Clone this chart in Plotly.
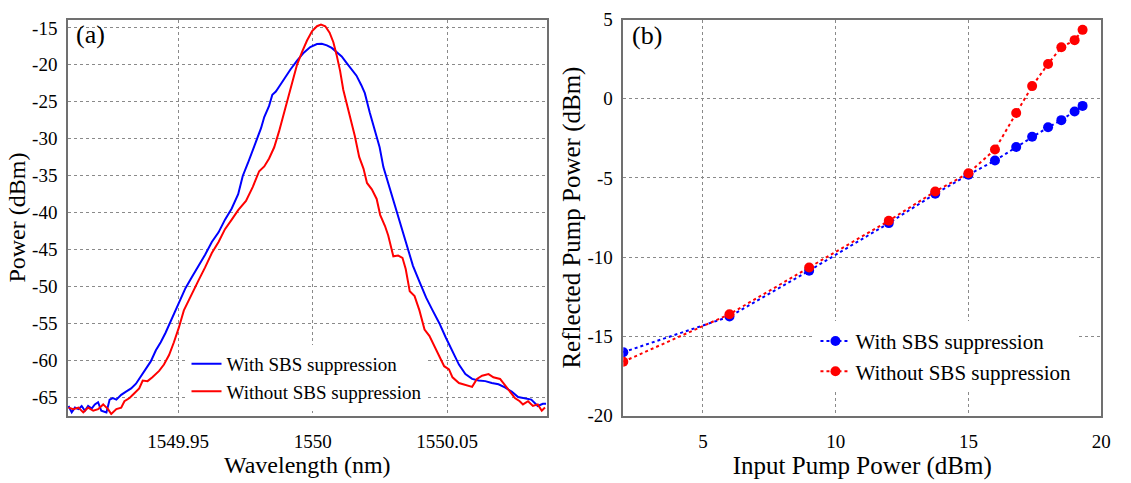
import plotly.graph_objects as go

# ---------------- Panel (a): spectra ----------------
wl_with = [1549.9092, 1549.9104, 1549.9116, 1549.9129, 1549.9141, 1549.9153, 1549.9165, 1549.9178,
           1549.9190, 1549.9202, 1549.9214, 1549.9233, 1549.9245, 1549.9257, 1549.9270, 1549.9288,
           1549.9306, 1549.9325, 1549.9343, 1549.9362, 1549.9380, 1549.9398, 1549.9417, 1549.9435,
           1549.9453, 1549.9472, 1549.9490, 1549.9509, 1549.9527, 1549.9551, 1549.9576, 1549.9600,
           1549.9625, 1549.9650, 1549.9674, 1549.9699, 1549.9723, 1549.9740, 1549.9759, 1549.9777,
           1549.9795, 1549.9808, 1549.9820, 1549.9838, 1549.9850, 1549.9863, 1549.9875, 1549.9893,
           1549.9918, 1549.9942, 1549.9967, 1549.9991, 1550.0016, 1550.0034, 1550.0053, 1550.0071,
           1550.0089, 1550.0108, 1550.0126, 1550.0145, 1550.0163, 1550.0181, 1550.0194, 1550.0212,
           1550.0230, 1550.0249, 1550.0263, 1550.0281, 1550.0300, 1550.0318, 1550.0336, 1550.0355,
           1550.0373, 1550.0397, 1550.0422, 1550.0446, 1550.0471, 1550.0495, 1550.0520, 1550.0544,
           1550.0568, 1550.0593, 1550.0617, 1550.0642, 1550.0666, 1550.0691, 1550.0715, 1550.0740,
           1550.0764, 1550.0788, 1550.0813, 1550.0837, 1550.0856, 1550.0868]
p_with = [-66.16, -67.03, -66.38, -66.59, -66.16, -66.81, -66.16, -66.51,
          -65.95, -65.65, -66.81, -67.03, -65.30, -65.09, -65.30, -64.66,
          -64.22, -63.79, -63.15, -62.07, -61.21, -60.13, -58.62, -57.54,
          -56.25, -54.74, -53.23, -51.72, -50.22, -48.71, -47.20, -45.69,
          -43.97, -42.67, -40.95, -39.44, -37.50, -35.04, -33.32, -31.59,
          -29.87, -28.58, -27.07, -25.56, -24.05, -23.62, -22.97, -21.90,
          -20.60, -19.44, -18.36, -17.59, -17.20, -17.16, -17.37, -17.72,
          -18.23, -18.88, -19.74, -20.60, -21.47, -22.76, -23.84, -26.42,
          -28.58, -31.16, -33.84, -35.99, -38.58, -40.73, -42.89, -45.04,
          -47.20, -49.35, -51.51, -53.23, -54.96, -56.90, -58.84, -60.56,
          -61.85, -62.50, -62.72, -62.80, -63.06, -63.23, -63.66, -64.22,
          -64.96, -65.09, -65.30, -66.16, -65.86, -65.86]

wl_without = [1549.9092, 1549.9110, 1549.9129, 1549.9147, 1549.9165, 1549.9184, 1549.9202, 1549.9221,
              1549.9239, 1549.9251, 1549.9270, 1549.9288, 1549.9300, 1549.9319, 1549.9337, 1549.9355,
              1549.9368, 1549.9386, 1549.9404, 1549.9429, 1549.9447, 1549.9466, 1549.9484, 1549.9502,
              1549.9521, 1549.9539, 1549.9558, 1549.9576, 1549.9600, 1549.9625, 1549.9650, 1549.9674,
              1549.9699, 1549.9723, 1549.9752, 1549.9777, 1549.9801, 1549.9820, 1549.9838, 1549.9857,
              1549.9875, 1549.9891, 1549.9906, 1549.9924, 1549.9942, 1549.9961, 1549.9979, 1549.9998,
              1550.0016, 1550.0031, 1550.0047, 1550.0063, 1550.0077, 1550.0089, 1550.0102, 1550.0114,
              1550.0126, 1550.0141, 1550.0157, 1550.0173, 1550.0189, 1550.0202, 1550.0220, 1550.0238,
              1550.0251, 1550.0269, 1550.0281, 1550.0300, 1550.0318, 1550.0334, 1550.0346, 1550.0361,
              1550.0379, 1550.0397, 1550.0416, 1550.0434, 1550.0452, 1550.0471, 1550.0489, 1550.0507,
              1550.0520, 1550.0544, 1550.0568, 1550.0593, 1550.0611, 1550.0630, 1550.0654, 1550.0672,
              1550.0697, 1550.0715, 1550.0733, 1550.0752, 1550.0770, 1550.0782, 1550.0801, 1550.0819,
              1550.0837, 1550.0852, 1550.0864]
p_without = [-66.38, -66.59, -66.38, -67.03, -66.38, -66.81, -66.59, -65.95,
             -66.59, -67.24, -66.59, -66.38, -65.52, -65.09, -64.44, -63.79,
             -62.72, -62.80, -62.28, -61.42, -60.56, -59.27, -57.54, -55.60,
             -53.23, -51.94, -50.65, -49.14, -47.41, -45.47, -43.97, -42.24,
             -40.95, -39.66, -38.41, -36.55, -34.40, -33.75, -32.67, -31.16,
             -29.01, -26.85, -24.70, -22.33, -19.96, -18.23, -16.72, -15.43,
             -14.78, -14.57, -14.78, -15.65, -16.94, -18.66, -20.82, -23.41,
             -25.13, -27.28, -29.66, -32.46, -34.05, -35.99, -36.85, -38.15,
             -40.30, -41.81, -43.10, -45.91, -45.82, -46.12, -47.63, -50.65,
             -51.29, -53.23, -55.82, -56.68, -57.97, -59.27, -60.78, -61.21,
             -62.28, -63.06, -63.36, -63.58, -62.50, -62.07, -61.85, -62.28,
             -62.50, -63.36, -64.22, -65.09, -65.52, -65.95, -65.52, -66.16,
             -65.95, -66.81, -66.38]

a_xticks = [1549.95, 1550.0, 1550.05]
a_xticktext = ["1549.95", "1550", "1550.05"]
a_yticks = [-65, -60, -55, -50, -45, -40, -35, -30, -25, -20, -15]
a_yticktext = ["-65", "-60", "-55", "-50", "-45", "-40", "-35", "-30", "-25", "-20", "-15"]

# ---------------- Panel (b): reflected pump power ----------------
pump_in = [2, 6, 9, 12, 13.75, 15, 16, 16.8, 17.4, 18, 18.5, 19, 19.3]
refl_with = [-16.0, -13.75, -10.85, -7.85, -6.0, -4.8, -3.9, -3.05, -2.4, -1.8, -1.35, -0.8, -0.45]
refl_without = [-16.6, -13.6, -10.65, -7.7, -5.85, -4.7, -3.2, -0.9, 0.8, 2.2, 3.25, 3.7, 4.35]

b_xticks = [5, 10, 15, 20]
b_xticktext = ["5", "10", "15", "20"]
b_yticks = [-20, -15, -10, -5, 0, 5]
b_yticktext = ["-20", "-15", "-10", "-5", "0", "5"]

names = ["With SBS suppression", "Without SBS suppression"]
colors = ["#0000ff", "#ff0000"]

FONT = "'Liberation Serif', 'Times New Roman', Times, 'DejaVu Serif', serif"
W, H = 1131, 483

fig = go.Figure()
fig.add_trace(go.Scatter(x=wl_with, y=p_with, mode="lines", name=names[0],
                         line=dict(color=colors[0], width=2), xaxis="x", yaxis="y", legend="legend"))
fig.add_trace(go.Scatter(x=wl_without, y=p_without, mode="lines", name=names[1],
                         line=dict(color=colors[1], width=2), xaxis="x", yaxis="y", legend="legend"))
fig.add_trace(go.Scatter(x=pump_in, y=refl_with, mode="lines+markers", name=names[0],
                         line=dict(color=colors[0], width=2, dash="dot"),
                         marker=dict(color=colors[0], size=10),
                         xaxis="x2", yaxis="y2", legend="legend2"))
fig.add_trace(go.Scatter(x=pump_in, y=refl_without, mode="lines+markers", name=names[1],
                         line=dict(color=colors[1], width=2, dash="dot"),
                         marker=dict(color=colors[1], size=10),
                         xaxis="x2", yaxis="y2", legend="legend2"))

ydom = [(H - 424) / H, (H - 10) / H]
axis_common = dict(showline=True, mirror=True, linecolor="#707070", linewidth=1.5,
                   showgrid=True, gridcolor="#8a8a8a", griddash="dot", gridwidth=1,
                   zeroline=False, ticks="", tickfont=dict(family=FONT, size=19, color="black"),
                   tickmode="array")

fig.update_layout(
    width=W, height=H,
    margin=dict(l=0, r=0, t=0, b=0),
    paper_bgcolor="white", plot_bgcolor="white",
    font=dict(family=FONT, color="black"),
    xaxis=dict(domain=[68.5 / W, 551 / W], range=[1549.909, 1550.087],
               tickvals=a_xticks, ticktext=a_xticktext, ticklabelstandoff=8,
               title=dict(text="Wavelength (nm)", font=dict(family=FONT, size=24), standoff=4),
               anchor="y", **axis_common),
    yaxis=dict(domain=ydom, range=[-67.46, -13.88],
               tickvals=a_yticks, ticktext=a_yticktext, ticklabelstandoff=5,
               title=dict(text="Power (dBm)", font=dict(family=FONT, size=24), standoff=0),
               anchor="x", **axis_common),
    xaxis2=dict(domain=[628.3 / W, 1110 / W], range=[2, 20],
                tickvals=b_xticks, ticktext=b_xticktext, ticklabelstandoff=8,
                title=dict(text="Input Pump Power (dBm)", font=dict(family=FONT, size=25), standoff=0),
                anchor="y2", **axis_common),
    yaxis2=dict(domain=ydom, range=[-20, 5],
                tickvals=b_yticks, ticktext=b_yticktext, ticklabelstandoff=5,
                title=dict(text="Reflected Pump Power (dBm)", font=dict(family=FONT, size=25), standoff=0),
                anchor="x2", **axis_common),
    legend=dict(x=188 / W, y=(H - 350) / H, xanchor="left", yanchor="top",
                bgcolor="white", borderwidth=0, font=dict(family=FONT, size=19, color="black")),
    legend2=dict(x=822 / W, y=(H - 325) / H, xanchor="left", yanchor="top",
                 bgcolor="white", borderwidth=0, font=dict(family=FONT, size=21, color="black")),
    showlegend=True,
    annotations=[
        dict(text="(a)", x=75 / W, y=(H - 26) / H, xref="paper", yref="paper",
             xanchor="left", yanchor="middle", showarrow=False, font=dict(family=FONT, size=26)),
        dict(text="(b)", x=635 / W, y=(H - 27) / H, xref="paper", yref="paper",
             xanchor="left", yanchor="middle", showarrow=False, font=dict(family=FONT, size=26)),
    ],
)

fig.write_html("out.html")
